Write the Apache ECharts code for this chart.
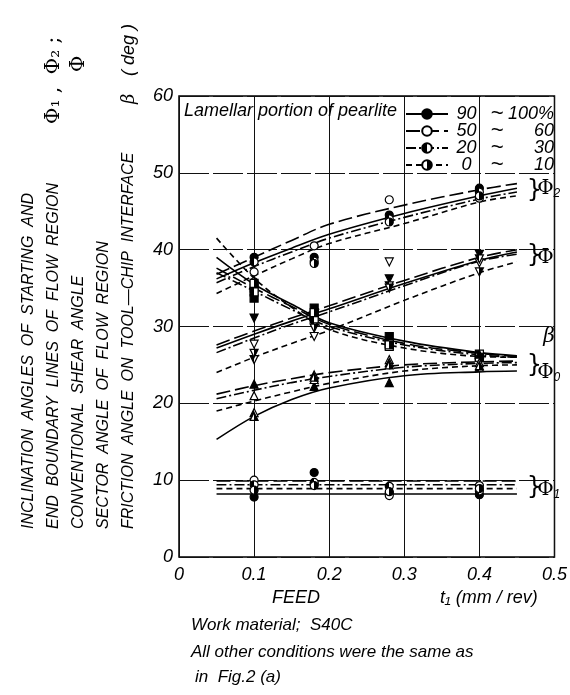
<!DOCTYPE html>
<html>
<head>
<meta charset="utf-8">
<script src="https://cdn.jsdelivr.net/npm/echarts@6/dist/echarts.min.js"></script>
<style>
html, body { margin: 0; padding: 0; background: #fff; }
#main { width: 570px; height: 695px; }
</style>
</head>
<body>
<div id="main"></div>
<script>
const curveFeed = [0.05, 0.1, 0.15, 0.2, 0.3, 0.4, 0.45]
const flatFeed = [0.05, 0.45]
// feeds of the measured points
const pointFeed = [0.1, 0.18, 0.28, 0.4]

// pearlite groups, same order in every array below
const groupNames = ['90 ~ 100%', '50 ~ 60', '20 ~ 30', '0 ~ 10']

// fitted curves, one row per group (deg)
const phi2Lines = [
  [36.2, 38.3, 40.2, 42.0, 44.7, 47.0, 48.0],
  [36.8, 39.0, 41.2, 43.3, 45.8, 47.8, 48.6],
  [35.7, 37.8, 39.7, 41.5, 44.2, 46.6, 47.5],
  [34.3, 36.6, 38.8, 40.8, 43.4, 46.2, 47.0]
]
const phiLines = [
  [27.2, 29.0, 30.7, 32.3, 35.6, 38.6, 39.7],
  [27.6, 29.4, 31.1, 32.7, 36.0, 39.0, 40.0],
  [26.6, 28.5, 30.3, 31.9, 35.3, 38.5, 39.4],
  [24.0, 26.0, 27.8, 29.5, 33.4, 37.0, 38.4]
]
const betaLines = [
  [39.0, 35.5, 32.9, 30.5, 28.1, 26.6, 26.2],
  [37.6, 35.0, 32.6, 30.3, 27.8, 26.5, 26.1],
  [37.0, 34.6, 32.2, 30.0, 27.6, 26.3, 26.0],
  [41.5, 36.3, 32.5, 29.6, 27.2, 26.1, 26.0]
]
const phi0Lines = [
  [15.3, 18.3, 20.5, 22.0, 23.6, 24.1, 24.2],
  [21.2, 22.3, 23.2, 24.0, 25.0, 25.4, 25.5],
  [20.6, 21.7, 22.7, 23.5, 24.7, 25.2, 25.3],
  [19.0, 20.3, 21.5, 22.6, 24.2, 24.9, 25.0]
]
const phi1Lines = [
  [8.2, 8.2],
  [9.9, 9.9],
  [9.4, 9.4],
  [8.9, 8.9]
]

// measured points, one row per group (deg)
const phi2Pts = [
  [39.0, 39.0, 44.5, 48.0],
  [37.1, 40.5, 46.5, 46.7],
  [38.4, 38.5, 44.0, 47.5],
  [35.8, 38.2, 43.6, 47.0]
]
const phiPts = [
  [31.1, 31.0, 36.2, 39.4],
  [27.7, 28.7, 38.4, 38.3],
  [25.7, 30.2, 35.3, 38.8],
  [26.5, 29.8, 35.0, 37.1]
]
const betaPts = [
  [33.7, 32.4, 28.7, 26.2],
  [35.0, 31.5, 27.4, 26.0],
  [34.5, 31.0, 27.8, 26.4],
  [35.6, 31.8, 27.6, 26.0]
]
const phi0Pts = [
  [22.5, 22.2, 22.7, 26.4],
  [21.0, 23.1, 25.7, 25.3],
  [18.8, 23.7, 25.3, 24.7],
  [18.3, 23.4, 25.0, 24.9]
]
const phi1Pts = [
  [7.8, 11.0, 8.3, 8.1],
  [10.0, 9.5, 8.0, 9.3],
  [9.4, 9.7, 9.2, 8.6],
  [8.7, 9.3, 8.5, 8.9]
]

const xTicks = ['0', '0.1', '0.2', '0.3', '0.4', '0.5']

const FONT = "'Liberation Sans', Arial, sans-serif"
const SERIF = "'DejaVu Serif', serif"
const dashTypes = ['solid', [14, 5], [10, 3, 2, 3], [6, 4]]
const halfLeft = new echarts.graphic.LinearGradient(0, 0, 1, 0, [
  { offset: 0, color: '#000' }, { offset: 0.5, color: '#000' },
  { offset: 0.5, color: '#fff' }, { offset: 1, color: '#fff' }
])
const halfRight = new echarts.graphic.LinearGradient(0, 0, 1, 0, [
  { offset: 0, color: '#fff' }, { offset: 0.5, color: '#fff' },
  { offset: 0.5, color: '#000' }, { offset: 1, color: '#000' }
])
const fills = ['#000', '#fff', halfLeft, halfRight]

let myChart = echarts.init(document.getElementById('main'))

function curves(key, feed, rows) {
  return rows.map((vals, g) => ({
    type: 'line',
    name: key + g,
    data: feed.map((f, i) => [f, vals[i]]),
    smooth: 0.35,
    symbol: 'none',
    silent: true,
    lineStyle: { color: '#000', width: 1.6, type: dashTypes[g] },
    z: 3
  }))
}

function points(key, symbol, rows) {
  return rows.map((vals, g) => ({
    type: 'scatter',
    name: key + 'pt' + g,
    data: pointFeed.map((f, i) => [f, vals[i]]),
    symbol: symbol,
    symbolSize: 8,
    silent: true,
    itemStyle: { color: fills[g], borderColor: '#000', borderWidth: 1.2, opacity: 1 },
    z: 5
  }))
}

// empty series only used for the legend entries
let legendSeries = groupNames.map((n, g) => ({
  type: 'line',
  name: n,
  data: [],
  symbol: 'circle',
  symbolSize: 9,
  lineStyle: { color: '#000', width: 1.6, type: dashTypes[g] },
  itemStyle: { color: fills[g], borderColor: '#000', borderWidth: 1.2 }
}))

let series = [].concat(
  curves('phi2', curveFeed, phi2Lines),
  curves('phi', curveFeed, phiLines),
  curves('beta', curveFeed, betaLines),
  curves('phi0', curveFeed, phi0Lines),
  curves('phi1', flatFeed, phi1Lines),
  points('phi2', 'circle', phi2Pts),
  points('phi', 'path://M0,0 L10,0 L5,9 Z', phiPts),
  points('beta', 'rect', betaPts),
  points('phi0', 'triangle', phi0Pts),
  points('phi1', 'circle', phi1Pts),
  legendSeries
)

// one legend per row so the rows sit tight like the original
let legends = groupNames.map((n, g) => ({
  data: [n],
  left: 405,
  top: 103 + g * 17,
  padding: 0,
  itemWidth: 42, itemHeight: 12,
  selectedMode: false,
  formatter: (name) => {
    let parts = name.split(' ~ ')
    return '{a|' + parts[0] + '}{t|~}{b|' + parts[1] + '}'
  },
  textStyle: {
    color: '#000', fontFamily: FONT, fontStyle: 'italic', fontSize: 18,
    rich: {
      a: { width: 27, align: 'right', fontSize: 18, fontStyle: 'italic', fontFamily: FONT },
      t: { width: 34, align: 'center', fontSize: 22, fontFamily: FONT },
      b: { width: 40, align: 'right', fontSize: 18, fontStyle: 'italic', fontFamily: FONT }
    }
  }
}))

let option = {
  animation: false,
  backgroundColor: '#fff',
  grid: { left: 179, right: 10, top: 96, bottom: 138, show: true, borderColor: '#000', borderWidth: 1.5 },
  xAxis: {
    type: 'value', min: 0, max: 0.5, interval: 0.1,
    axisLine: { show: false },
    axisTick: { show: false },
    splitLine: { show: true, lineStyle: { color: '#111', width: 1 } },
    axisLabel: {
      color: '#000', fontFamily: FONT, fontStyle: 'italic', fontSize: 18, margin: 9,
      formatter: (v) => xTicks[Math.round(v * 10)]
    }
  },
  yAxis: {
    type: 'value', min: 0, max: 60, interval: 10,
    axisLine: { show: false },
    axisTick: { show: false },
    splitLine: { show: true, lineStyle: { color: '#111', width: 1, type: [30, 4] } },
    axisLabel: { color: '#000', fontFamily: FONT, fontStyle: 'italic', fontSize: 18, margin: 6 }
  },
  legend: legends,
  series: series
}
myChart.setOption(option)

// texts around the plot
const txt = (x, y, text, extra) => ({
  type: 'text', x: x, y: y, silent: true,
  style: Object.assign({ text: text, fill: '#000', font: 'italic 16px ' + FONT, textVerticalAlign: 'middle' }, extra || {})
})
const rot = (x, y, text, extra) => Object.assign(txt(x, y, text, extra), { rotation: Math.PI / 2 })

const px = (f, v) => myChart.convertToPixel({ gridIndex: 0 }, [f, v])

let graphics = [
  rot(29, 529, 'INCLINATION  ANGLES  OF  STARTING  AND'),
  rot(54, 529, 'END  BOUNDARY  LINES  OF  FLOW  REGION'),
  rot(54, 124, 'Φ\u2081 ,  Φ\u2082 ;', { font: '20px ' + SERIF }),
  rot(79, 529, 'CONVENTIONAL  SHEAR  ANGLE'),
  rot(79, 72, 'Φ', { font: '20px ' + SERIF }),
  rot(104, 529, 'SECTOR  ANGLE  OF  FLOW  REGION'),
  rot(129, 529, 'FRICTION  ANGLE  ON  TOOL\u2014CHIP  INTERFACE'),
  rot(129, 104, 'β', { font: 'italic 18px ' + SERIF }),
  rot(129, 76, '( deg )', { font: 'italic 18px ' + FONT }),
  txt(184, 111, 'Lamellar portion of pearlite', { font: 'italic 18px ' + FONT }),
  txt(272, 598, 'FEED', { font: 'italic 18px ' + FONT }),
  txt(440, 598, 't\u2081 (mm / rev)', { font: 'italic 18px ' + FONT }),
  txt(191, 625, 'Work material;  S40C', { font: 'italic 17px ' + FONT }),
  txt(191, 652, 'All other conditions were the same as', { font: 'italic 17px ' + FONT }),
  txt(195, 677, 'in  Fig.2 (a)', { font: 'italic 17px ' + FONT })
]

// braces and symbols at the right end of each bundle
const tags = [
  { at: [0.463, 47.7], label: 'Φ', sub: '2', ly: 47.9 },
  { at: [0.463, 39.2], label: 'Φ', sub: '', ly: 39.0 },
  { at: [0.463, 24.9], label: 'Φ', sub: '0', ly: 24.0 },
  { at: [0.463, 9.0], label: 'Φ', sub: '1', ly: 8.7 }
]
tags.forEach((t) => {
  let p = px(t.at[0], t.at[1])
  graphics.push(txt(p[0], p[1], '}', { font: '24px ' + "'DejaVu Sans', sans-serif", textAlign: 'left' }))
  let q = px(0.477, t.ly)
  graphics.push({
    type: 'text', x: q[0], y: q[1], silent: true,
    style: {
      text: '{p|' + t.label + '}' + (t.sub ? '{s|' + t.sub + '}' : ''),
      textVerticalAlign: 'middle',
      rich: {
        p: { font: '20px ' + SERIF, fill: '#000' },
        s: { font: 'italic 12px ' + FONT, fill: '#000', padding: [10, 0, 0, 0] }
      }
    }
  })
})
let b = px(0.485, 28.6)
graphics.push(txt(b[0], b[1], 'β', { font: 'italic 20px ' + SERIF }))

myChart.setOption({ graphic: graphics })
</script>
</body>
</html>
